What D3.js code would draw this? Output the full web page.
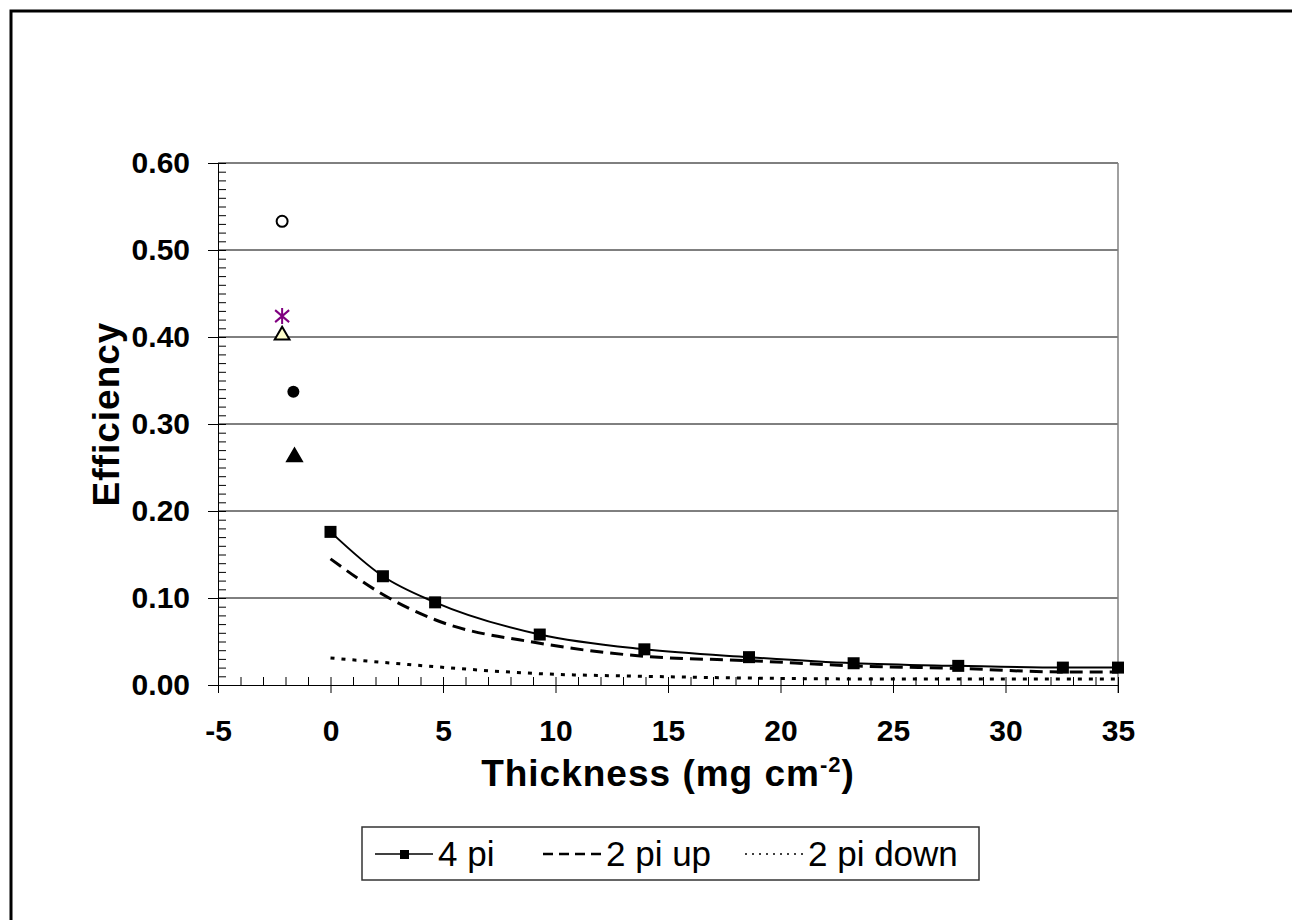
<!DOCTYPE html>
<html>
<head>
<meta charset="utf-8">
<script src="https://cdn.jsdelivr.net/npm/d3@7"></script>
<style>
  body { margin: 0; background: #fff; }
  text { font-family: "Liberation Sans", Arial, sans-serif; }
</style>
</head>
<body>
<div id="chart"></div>
<script>
// Data
const thickness = [0, 2.33, 4.65, 9.3, 13.95, 18.6, 23.25, 27.9, 32.55, 35];
const eff4pi = [0.176, 0.125, 0.095, 0.058, 0.041, 0.032, 0.025, 0.022, 0.020, 0.020];
const eff2piUp = [0.145, 0.104, 0.075, 0.048, 0.033, 0.028, 0.022, 0.019, 0.015, 0.015];
const eff2piDown = [0.031, 0.026, 0.021, 0.013, 0.010, 0.008, 0.007, 0.007, 0.007, 0.007];
const seriesNames = ['4 pi', '2 pi up', '2 pi down'];

// single measurements left of zero
const singleX = [-2.15, -2.15, -2.15, -1.65, -1.6];
const singleY = [0.533, 0.424, 0.402, 0.337, 0.262];
const singleKind = ['openCircle', 'asterisk', 'paleTriangle', 'circle', 'triangle'];

const xTicks = [-5, 0, 5, 10, 15, 20, 25, 30, 35];
const yTicks = [0, 0.1, 0.2, 0.3, 0.4, 0.5, 0.6];

const width = 1292;
const height = 920;

const svg = d3.select('#chart')
  .append('svg')
  .attr('width', width)
  .attr('height', height);

svg.append('rect').attr('width', width).attr('height', height).attr('fill', '#fff');

// outer chart frame (runs off the right and bottom)
svg.append('rect')
  .attr('x', 11).attr('y', 11)
  .attr('width', 1400).attr('height', 1000)
  .attr('fill', 'none')
  .attr('stroke', '#000')
  .attr('stroke-width', 3);

const x = d3.scaleLinear().domain([-5, 35]).range([218, 1118]);
const y = d3.scaleLinear().domain([0, 0.6]).range([685, 163]);

// gridlines
svg.append('g')
  .selectAll('line')
  .data(yTicks.filter(d => d > 0))
  .enter()
  .append('line')
  .attr('x1', x(-5)).attr('x2', x(35))
  .attr('y1', d => y(d)).attr('y2', d => y(d))
  .attr('stroke', '#000')
  .attr('stroke-width', 1);

// right border of plot area
svg.append('line')
  .attr('x1', x(35)).attr('x2', x(35))
  .attr('y1', y(0.6)).attr('y2', y(0) + 8)
  .attr('stroke', '#808080')
  .attr('stroke-width', 1.5);

// minor ticks, inside
svg.append('g')
  .attr('transform', `translate(0,${y(0)})`)
  .call(d3.axisTop(x).tickValues(d3.range(-5, 36)).tickSize(8).tickFormat(''))
  .call(g => g.select('.domain').remove());

svg.append('g')
  .attr('transform', `translate(${x(-5)},0)`)
  .call(d3.axisRight(y).tickValues(d3.range(61).map(i => i / 100)).tickSize(8).tickFormat(''))
  .call(g => g.select('.domain').remove());

// major axes
const xAxis = svg.append('g')
  .attr('transform', `translate(0,${y(0)})`)
  .call(d3.axisBottom(x).tickValues(xTicks).tickSize(8).tickSizeOuter(0)
    .tickPadding(27).tickFormat(d => String(d)));

const yAxis = svg.append('g')
  .attr('transform', `translate(${x(-5)},0)`)
  .call(d3.axisLeft(y).tickValues(yTicks).tickSize(10).tickSizeOuter(0)
    .tickPadding(18).tickFormat(d => d.toFixed(2)));

[xAxis, yAxis].forEach(g => {
  g.selectAll('line').attr('stroke', '#000');
  g.select('.domain').attr('stroke', '#000');
  g.selectAll('text')
    .attr('fill', '#000')
    .style('font-family', '"Liberation Sans", Arial, sans-serif')
    .style('font-size', '30px')
    .style('font-weight', 'bold');
});

// axis titles
svg.append('text')
  .attr('transform', `translate(119,414) rotate(-90)`)
  .attr('text-anchor', 'middle')
  .style('font-size', '37px')
  .style('font-weight', 'bold')
  .style('letter-spacing', '1px')
  .text('Efficiency');

const xTitle = svg.append('text')
  .attr('x', (x(-5) + x(35)) / 2)
  .attr('y', 786)
  .attr('text-anchor', 'middle')
  .style('font-size', '37px')
  .style('font-weight', 'bold')
  .style('letter-spacing', '1px');
xTitle.append('tspan').text('Thickness (mg cm');
xTitle.append('tspan').attr('dy', -14).style('font-size', '22px').text('-2');
xTitle.append('tspan').attr('dy', 14).text(')');

// series lines
const styles = [
  { width: 2, dash: null },
  { width: 3, dash: '13,7' },
  { width: 3, dash: '4,7' }
];
const seriesValues = [eff4pi, eff2piUp, eff2piDown];

const line = d3.line()
  .x(d => x(d[0]))
  .y(d => y(d[1]))
  .curve(d3.curveMonotoneX);

seriesValues.forEach((vals, i) => {
  svg.append('path')
    .datum(thickness.map((t, j) => [t, vals[j]]))
    .attr('d', line)
    .attr('fill', 'none')
    .attr('stroke', '#000')
    .attr('stroke-width', styles[i].width)
    .attr('stroke-dasharray', styles[i].dash);
});

// square markers on 4 pi
svg.append('g')
  .selectAll('rect')
  .data(thickness.map((t, j) => [t, eff4pi[j]]))
  .enter()
  .append('rect')
  .attr('x', d => x(d[0]) - 6)
  .attr('y', d => y(d[1]) - 6)
  .attr('width', 12)
  .attr('height', 12)
  .attr('fill', '#000');

// single points
const pts = svg.append('g');
singleX.forEach((sx, i) => {
  const cx = x(sx), cy = y(singleY[i]);
  const g = pts.append('g').attr('transform', `translate(${cx},${cy})`);
  const kind = singleKind[i];
  if (kind === 'openCircle') {
    g.append('circle').attr('r', 5.5).attr('fill', '#fff').attr('stroke', '#000').attr('stroke-width', 2);
  } else if (kind === 'circle') {
    g.append('circle').attr('r', 6).attr('fill', '#000');
  } else if (kind === 'asterisk') {
    g.append('path')
      .attr('d', 'M0,-8V8M-7,-6L7,6M-7,6L7,-6')
      .attr('stroke', '#800080')
      .attr('stroke-width', 2)
      .attr('fill', 'none');
  } else {
    g.append('path')
      .attr('d', d3.symbol().type(d3.symbolTriangle).size(95)())
      .attr('fill', kind === 'paleTriangle' ? '#ffffcc' : '#000')
      .attr('stroke', '#000')
      .attr('stroke-width', 2);
  }
});

// legend
const legend = svg.append('g');
legend.append('rect')
  .attr('x', 362).attr('y', 827)
  .attr('width', 617).attr('height', 53)
  .attr('fill', '#fff')
  .attr('stroke', '#333')
  .attr('stroke-width', 1.5);

const legendX = [375, 543, 745];
const legendStyles = [
  { width: 1.5, dash: null },
  { width: 2.5, dash: '10,6' },
  { width: 1.5, dash: '2,5' }
];
seriesNames.forEach((name, i) => {
  const lx = legendX[i];
  legend.append('line')
    .attr('x1', lx).attr('x2', lx + 58)
    .attr('y1', 854).attr('y2', 854)
    .attr('stroke', '#000')
    .attr('stroke-width', legendStyles[i].width)
    .attr('stroke-dasharray', legendStyles[i].dash);
  if (i === 0) {
    legend.append('rect')
      .attr('x', lx + 25).attr('y', 850)
      .attr('width', 9).attr('height', 9)
      .attr('fill', '#000');
  }
  legend.append('text')
    .attr('x', lx + 63)
    .attr('y', 866)
    .style('font-size', '35px')
    .text(name);
});
</script>
</body>
</html>
